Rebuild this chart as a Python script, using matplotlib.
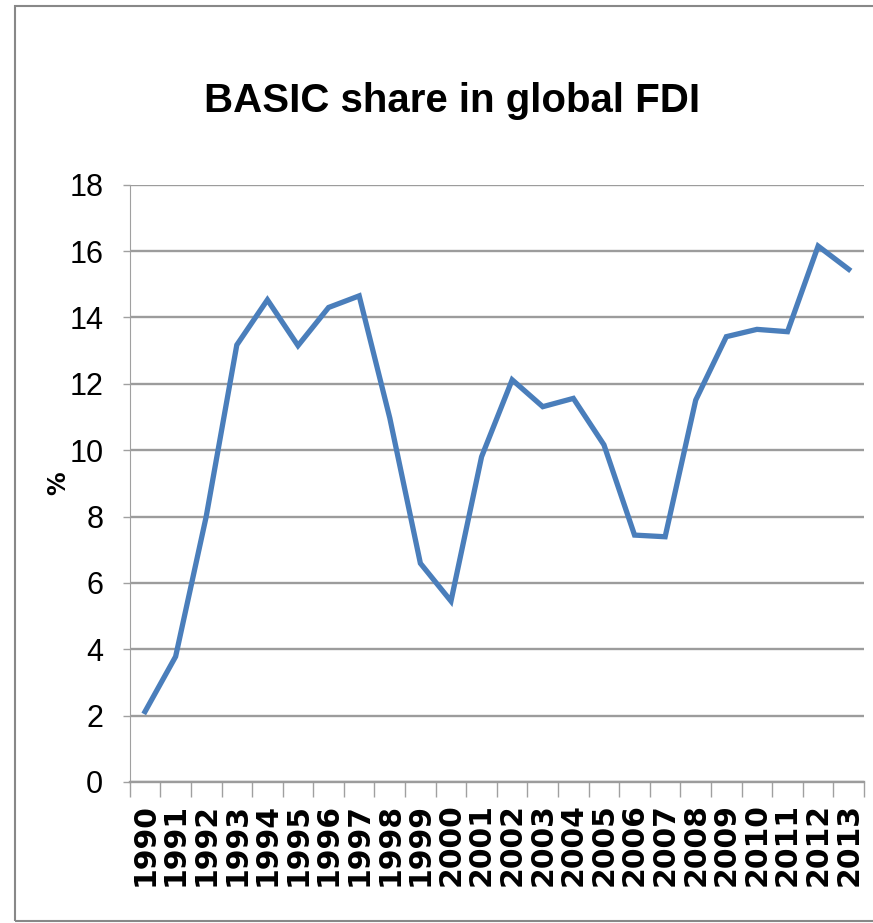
import matplotlib
matplotlib.use("Agg")
import matplotlib.pyplot as plt
from matplotlib import font_manager
from matplotlib.patches import Rectangle
from matplotlib.ticker import FixedLocator, NullFormatter

years = [str(y) for y in range(1990, 2014)]
share = [2.12, 3.78, 8.0, 13.17, 14.53, 13.15, 14.3, 14.65, 10.97, 6.59,
         5.45, 9.8, 12.12, 11.31, 11.56, 10.16, 7.44, 7.39, 11.51, 13.42,
         13.64, 13.57, 16.15, 15.45]
y_ticks = list(range(0, 20, 2))

# prefer a condensed face if one is installed
names = {f.name for f in font_manager.fontManager.ttflist}
narrow = "Liberation Sans"
for cand in ["Liberation Sans Narrow", "DejaVu Sans Condensed"]:
    if cand in names:
        narrow = cand
        break

fig = plt.figure(figsize=(8.73, 9.23), dpi=100)
ax = fig.add_axes([0.1486, 0.1528, 0.8411, 0.6471])

x = list(range(len(years)))
ax.plot(x, share, color="#4a7ebb", lw=3.8, solid_joinstyle="miter")

ax.set_xlim(-0.5, len(years) - 0.5)
ax.set_ylim(0, 18)
ax.set_yticks(y_ticks)
ax.set_yticklabels([str(v) for v in y_ticks], fontfamily=narrow, fontsize=22)
ax.grid(axis="y", color="#9c9c9c", lw=1.7)
ax.set_axisbelow(True)

# category axis: tick marks between categories, labels at the centers
ax.xaxis.set_major_locator(FixedLocator([i - 0.5 for i in range(len(years) + 1)]))
ax.xaxis.set_major_formatter(NullFormatter())
ax.xaxis.set_minor_locator(FixedLocator(x))
ax.set_xticklabels(years, minor=True, rotation=90, fontfamily="DejaVu Sans",
                   fontweight="bold", fontsize=21.5)
ax.tick_params(axis="x", which="major", length=11, width=1, color="#a0a0a0")
ax.tick_params(axis="x", which="minor", length=0, pad=15)
ax.tick_params(axis="y", length=5, width=1, color="#a0a0a0", pad=14)

for side in ["top", "right"]:
    ax.spines[side].set_visible(False)
ax.spines["left"].set_color("#a0a0a0")
ax.spines["bottom"].set_color("#9c9c9c")
ax.spines["bottom"].set_linewidth(1.7)

ax.set_ylabel("%", fontfamily="DejaVu Sans", fontweight="bold", fontsize=17)
ax.yaxis.set_label_coords(-0.081, 0.5)

fig.text(0.518, 0.8787, "BASIC share in global FDI", ha="center", va="baseline",
         fontfamily=narrow, fontweight="bold", fontsize=29)

fig.patches.append(Rectangle((0.0172, 0.0022), 1.2, 0.9913, transform=fig.transFigure,
                             fill=False, edgecolor="#888888", lw=1.5))

fig.savefig("out.png", dpi=100)
